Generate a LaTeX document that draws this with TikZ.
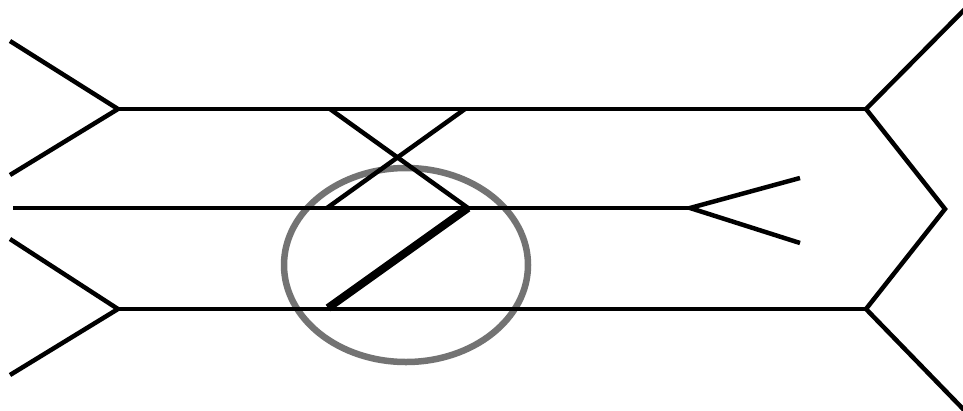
\documentclass[tikz,border=0pt]{standalone}
\begin{document}
\begin{tikzpicture}[x=1pt,y=-1pt,
  wire/.style={line width=4.5pt,line join=miter},
  heavy/.style={line width=8pt},
  ring/.style={draw=black!55,line width=6.5pt}]
\useasboundingbox (0,0) rectangle (963,410);
% coordinates
\coordinate (lt1) at (10,41);
\coordinate (lt2) at (10,175);
\coordinate (jl1) at (118,109);
\coordinate (lb1) at (10,239);
\coordinate (lb2) at (10,375);
\coordinate (jl2) at (118,309);
\coordinate (jr1) at (866,109);
\coordinate (jr2) at (866,309);
\coordinate (rt) at (966,8);
\coordinate (rb) at (966,412);
\coordinate (rm) at (945,209);
\coordinate (ms) at (13,208);
\coordinate (mj) at (690,208);
\coordinate (ma1) at (800,178);
\coordinate (ma2) at (800,243);
\coordinate (xa) at (330,109);
\coordinate (xb) at (468,208);
\coordinate (xc) at (465,109);
\coordinate (xd) at (327,208);
\coordinate (hb) at (328,308);
\coordinate (ec) at (406,265);
% ellipse
\draw[ring] (ec) ellipse [x radius=122, y radius=97];
% left forks
\draw[wire] (lt1) -- (jl1) -- (lt2);
\draw[wire] (lb1) -- (jl2) -- (lb2);
% rails
\draw[wire] (jl1) -- (jr1);
\draw[wire] (jl2) -- (jr2);
% right end
\draw[wire] (rt) -- (jr1) -- (rm) -- (jr2) -- (rb);
% middle line and fork
\draw[wire] (ms) -- (mj);
\draw[wire] (ma1) -- (mj) -- (ma2);
% crossing
\draw[wire] (xa) -- (xb);
\draw[wire] (xc) -- (xd);
% heavy diagonal
\draw[heavy] (xb) -- (hb);
\end{tikzpicture}
\end{document}
